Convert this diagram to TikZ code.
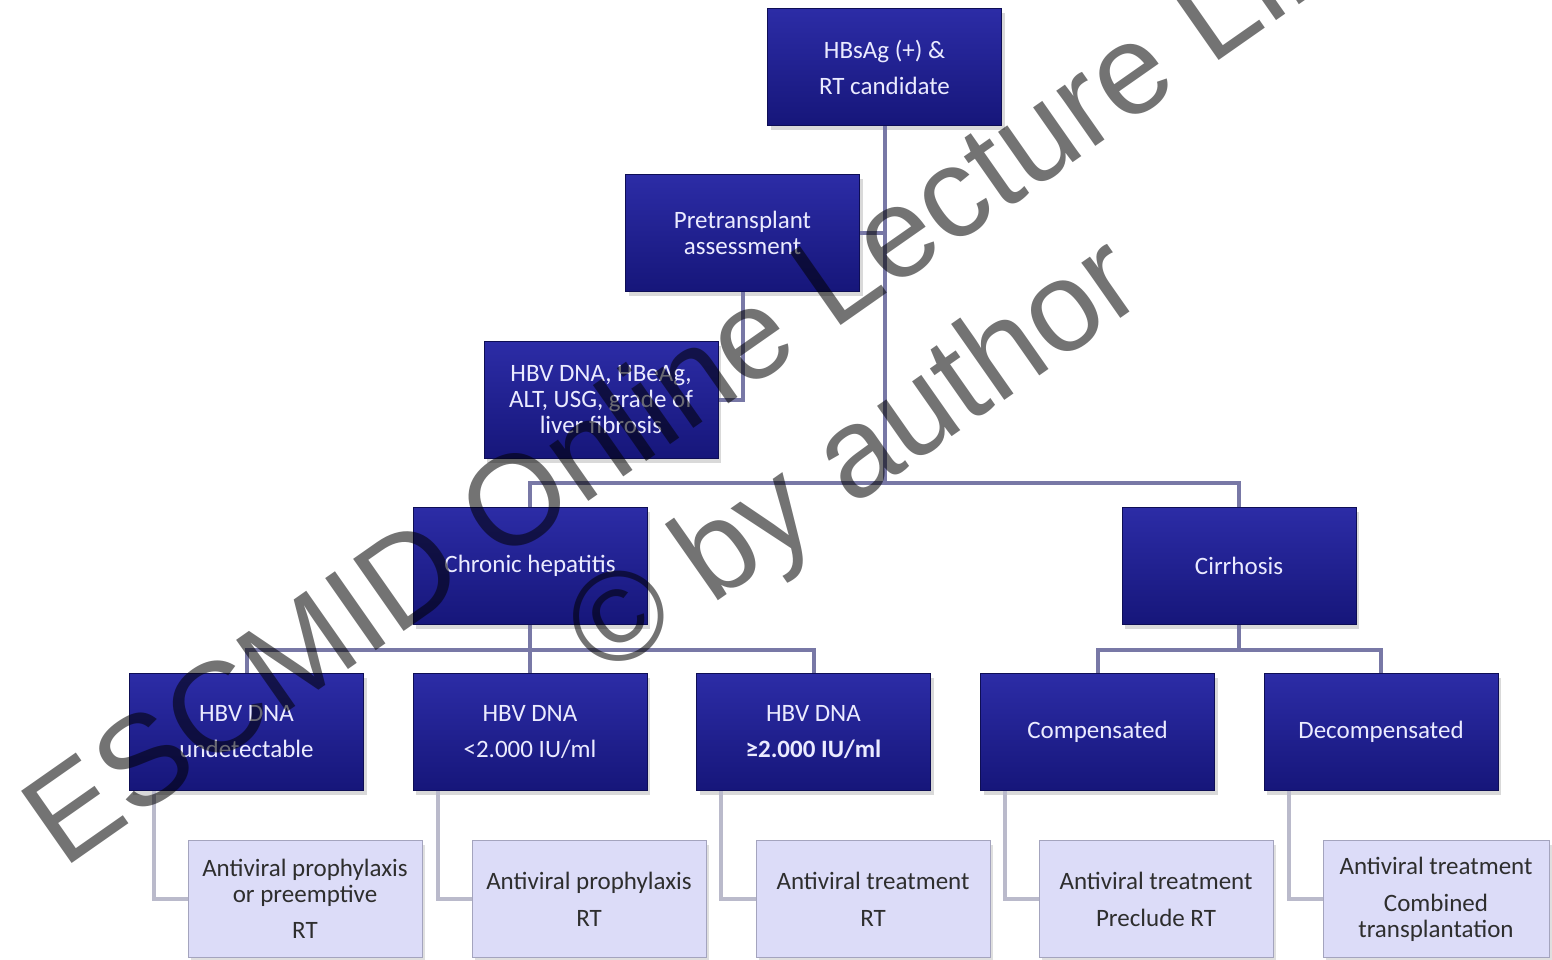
\documentclass[tikz,border=0pt]{standalone}
\usepackage{fontspec}
\setmainfont{Carlito}
\newfontfamily\markfont{Liberation Sans}
\usetikzlibrary{shadows}

\definecolor{navytop}{HTML}{2C2CA6}
\definecolor{navybot}{HTML}{16167A}
\definecolor{navyline}{HTML}{0E0E55}
\definecolor{lilac}{HTML}{DCDCF8}
\definecolor{lilacline}{HTML}{A4A4BE}
\definecolor{linkdark}{HTML}{7878A6}
\definecolor{linklight}{HTML}{BABACB}
\definecolor{txtgray}{HTML}{2E2E2E}

\begin{document}
\begin{tikzpicture}[x=1pt, y=-1pt, every node/.style={font=\fontsize{25}{26}\selectfont, align=center},
	darkbox/.style={draw=navyline, line width=1pt, top color=navytop, bottom color=navybot, text=white!92!blue, minimum width=234pt, minimum height=117pt, inner sep=2pt, drop shadow={shadow xshift=3pt, shadow yshift=-4pt, opacity=0.3}},
	lightbox/.style={draw=lilacline, line width=1pt, fill=lilac, text=txtgray, minimum width=234pt, minimum height=117pt, inner sep=2pt, drop shadow={shadow xshift=3pt, shadow yshift=-4pt, opacity=0.25}},
	link/.style={draw=linkdark, line width=4pt},
	sublink/.style={draw=linklight, line width=4pt},
	wmark/.style={font=\markfont\fontsize{128}{128}\selectfont, text=black, text opacity=0.55, rotate=35, anchor=base west, inner sep=0pt}]
	\useasboundingbox (0,0) rectangle (1552,959);
	\node[darkbox] (top) at (884.5,67) {HBsAg (+) \&\\[10pt]RT candidate};
	\node[darkbox] (pre) at (742.5,233) {Pretransplant\\assessment};
	\node[darkbox] (hbv) at (601,400) {HBV DNA, HBeAg,\\ALT, USG, grade of\\liver fibrosis};
	\node[darkbox] (chronic) at (530,566) {Chronic hepatitis};
	\node[darkbox] (cirr) at (1239,566) {Cirrhosis};
	\node[darkbox] (und) at (246.5,732) {HBV DNA\\[10pt]undetectable};
	\node[darkbox] (low) at (530,732) {HBV DNA\\[10pt]<2.000 IU/ml};
	\node[darkbox] (high) at (813.5,732) {HBV DNA\\[10pt]\textbf{≥2.000 IU/ml}};
	\node[darkbox] (comp) at (1097.5,732) {Compensated};
	\node[darkbox] (decomp) at (1381,732) {Decompensated};
	\node[lightbox] (tx1) at (305,899) {Antiviral prophylaxis\\or preemptive\\[10pt]RT};
	\node[lightbox] (tx2) at (589,899) {Antiviral prophylaxis\\[11pt]RT};
	\node[lightbox] (tx3) at (873,899) {Antiviral treatment\\[11pt]RT};
	\node[lightbox] (tx4) at (1156,899) {Antiviral treatment\\[11pt]Preclude RT};
	\node[lightbox, minimum width=226pt] (tx5) at (1436,899) {Antiviral treatment\\[11pt]Combined\\transplantation};
	\coordinate (bus1) at (884.5,483);
	\coordinate (bus2) at (530,650);
	\coordinate (bus3) at (1239,650);
	\draw[link] (top.south) -- (bus1);
	\draw[link] (pre.east) -- (pre.east -| top.south);
	\draw[link] (pre.south) |- (hbv.east);
	\draw[link] (chronic.north) |- (bus1) -| (cirr.north);
	\draw[link] (chronic.south) -- (bus2);
	\draw[link] (und.north) |- (bus2) -| (high.north);
	\draw[link] (low.north) -- (bus2);
	\draw[link] (cirr.south) -- (bus3);
	\draw[link] (comp.north) |- (bus3) -| (decomp.north);
	\draw[sublink] ([xshift=25pt]und.south west) |- (tx1.west);
	\draw[sublink] ([xshift=25pt]low.south west) |- (tx2.west);
	\draw[sublink] ([xshift=25pt]high.south west) |- (tx3.west);
	\draw[sublink] ([xshift=25pt]comp.south west) |- (tx4.west);
	\draw[sublink] ([xshift=25pt]decomp.south west) |- (tx5.west);
	\node[wmark] (wm1) at (63,870) {ESCMID Online Lecture Library};
	\node[wmark] (wm2) at (605,680) {© by author};
\end{tikzpicture}
\end{document}
